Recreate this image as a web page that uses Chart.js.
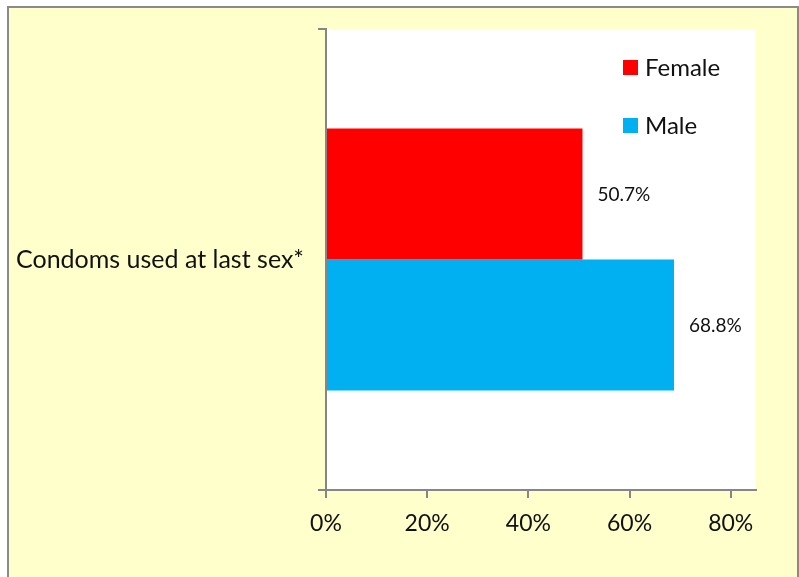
<!DOCTYPE html>
<html>
<head>
<meta charset="utf-8">
<script src="https://cdn.jsdelivr.net/npm/chart.js@4"></script>
<style>
  html, body { margin: 0; padding: 0; background: #ffffff; }
  #frame {
    position: absolute; left: 7px; top: 6px; width: 788px; height: 580px;
    background: #FFFFCC; border: 2px solid #8a8a8a; border-bottom: none;
  }
  #wrap { position: absolute; left: 0; top: 0; width: 799px; height: 577px; }
</style>
</head>
<body>
<div id="frame"></div>
<div id="wrap"><canvas id="chart" width="799" height="577"></canvas></div>
<script>
// chart data
const categories = ["Condoms used at last sex*"];
const seriesNames = ["Female", "Male"];
const femaleValues = [0.507];
const maleValues = [0.688];
const tickValues = [0, 0.2, 0.4, 0.6, 0.8];

const FONT = "Lato, 'Open Sans', sans-serif";
const AXIS_GREY = "#868686";

// draws the "50.7%" labels just past the end of each bar
const valueLabels = {
    id: "valueLabels",
    afterDatasetsDraw(chart) {
        let ctx = chart.ctx;
        ctx.save();
        ctx.font = "19px " + FONT;
        ctx.fillStyle = "#111";
        ctx.textBaseline = "middle";
        ctx.textAlign = "left";
        chart.data.datasets.forEach((ds, i) => {
            chart.getDatasetMeta(i).data.forEach((bar, j) => {
                let v = ds.data[j];
                ctx.fillText((v * 100).toFixed(1) + "%", bar.x + 15, bar.y + 1);
            });
        });
        ctx.restore();
    }
};

// legend sits inside the plot area, top right
const innerLegend = {
    id: "innerLegend",
    afterDraw(chart) {
        let ctx = chart.ctx;
        let area = chart.chartArea;
        ctx.save();
        ctx.font = "24px " + FONT;
        ctx.textBaseline = "middle";
        chart.data.datasets.forEach((ds, i) => {
            let x = area.right - 133;
            let y = area.top + 31 + i * 58;
            ctx.fillStyle = ds.backgroundColor;
            ctx.fillRect(x, y, 15, 15);
            ctx.fillStyle = "#111";
            ctx.fillText(ds.label, x + 22, y + 8);
        });
        ctx.restore();
    }
};

const plotWhite = {
    id: "plotWhite",
    beforeDraw(chart) {
        let a = chart.chartArea;
        chart.ctx.save();
        chart.ctx.fillStyle = "#ffffff";
        chart.ctx.fillRect(a.left, a.top, a.right - a.left, a.bottom - a.top);
        chart.ctx.restore();
    }
};

new Chart(document.getElementById("chart").getContext("2d"), {
    type: "bar",
    data: {
        labels: categories,
        datasets: [
            { label: seriesNames[0], data: femaleValues, backgroundColor: "#FF0000" },
            { label: seriesNames[1], data: maleValues, backgroundColor: "#00B0F0" }
        ]
    },
    options: {
        indexAxis: "y",
        responsive: false,
        animation: false,
        layout: { padding: { left: 0, top: 29, right: 43, bottom: 0 } },
        datasets: { bar: { categoryPercentage: 0.568, barPercentage: 1.0 } },
        plugins: { legend: { display: false }, tooltip: { enabled: false } },
        scales: {
            x: {
                min: 0,
                max: 0.85,
                afterBuildTicks(scale) {
                    scale.ticks = tickValues.map(v => ({ value: v }));
                },
                afterFit(scale) { scale.height = 87; },
                grid: { drawOnChartArea: false, color: AXIS_GREY, tickLength: 8, lineWidth: 2 },
                border: { color: AXIS_GREY, width: 2 },
                ticks: {
                    color: "#111",
                    font: { family: FONT, size: 23 },
                    padding: 12,
                    callback: v => Math.round(v * 100) + "%"
                }
            },
            y: {
                afterFit(scale) { scale.width = 326; },
                grid: { drawOnChartArea: false, color: AXIS_GREY, tickLength: 8, lineWidth: 2 },
                border: { color: AXIS_GREY, width: 2 },
                ticks: {
                    color: "#111",
                    font: { family: FONT, size: 25 },
                    padding: 14
                }
            }
        }
    },
    plugins: [plotWhite, valueLabels, innerLegend]
});
</script>
</body>
</html>
